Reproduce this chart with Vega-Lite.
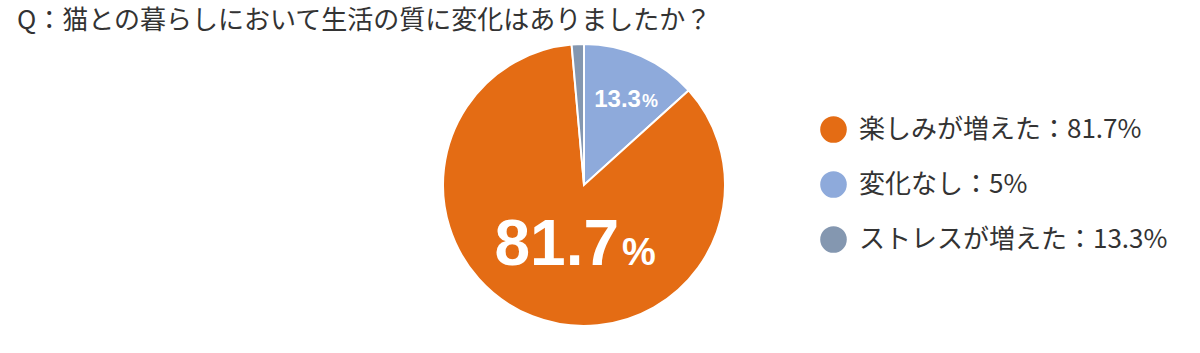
{
  "$schema": "https://vega.github.io/schema/vega-lite/v6.json",
  "width": 290,
  "height": 290,
  "autosize": {"type": "none"},
  "padding": {"left": 439, "top": 40, "right": 471, "bottom": 23},
  "background": "white",
  "title": {
    "text": "Q：猫との暮らしにおいて生活の質に変化はありましたか？",
    "anchor": "start",
    "frame": "group",
    "dx": -422,
    "offset": 6,
    "font": "Noto Sans CJK JP",
    "fontSize": 26,
    "fontWeight": "normal",
    "color": "#333333"
  },
  "data": {
    "values": [
      {"category": "変化なし：5%", "value": 13.3, "order": 1, "num": "13.3", "pct": "%"},
      {"category": "楽しみが増えた：81.7%", "value": 85.3, "order": 2, "num": "81.7", "pct": "%"},
      {"category": "ストレスが増えた：13.3%", "value": 1.4, "order": 3, "num": "", "pct": ""}
    ]
  },
  "encoding": {
    "theta": {"field": "value", "type": "quantitative", "stack": true},
    "order": {"field": "order", "type": "quantitative"}
  },
  "layer": [
    {
      "mark": {"type": "arc", "outerRadius": 141, "stroke": "white", "strokeWidth": 2},
      "encoding": {
        "color": {
          "field": "category",
          "type": "nominal",
          "scale": {
            "domain": ["楽しみが増えた：81.7%", "変化なし：5%", "ストレスが増えた：13.3%"],
            "range": ["#E46C14", "#8EAADB", "#8497B0"]
          },
          "legend": {
            "orient": "none",
            "legendX": 381,
            "legendY": 76,
            "title": null,
            "symbolType": "circle",
            "symbolSize": 707,
            "symbolStrokeWidth": 0,
            "symbolOpacity": 1,
            "labelFont": "Noto Sans CJK JP",
            "labelFontSize": 26,
            "labelColor": "#333333",
            "labelOffset": 12,
            "labelLimit": 500,
            "rowPadding": 28,
            "padding": 0
          }
        }
      }
    },
    {
      "mark": {"type": "text", "radius": 60, "align": "right", "baseline": "alphabetic", "dx": 57, "dy": 24, "font": "Liberation Sans", "fontWeight": "bold", "fontSize": 64, "color": "white"},
      "encoding": {"text": {"condition": {"test": "datum.order === 2", "field": "num"}, "value": ""}}
    },
    {
      "mark": {"type": "text", "radius": 60, "align": "left", "baseline": "alphabetic", "dx": 60, "dy": 24, "font": "Liberation Sans", "fontWeight": "bold", "fontSize": 38, "color": "white"},
      "encoding": {"text": {"condition": {"test": "datum.order === 2", "field": "pct"}, "value": ""}}
    },
    {
      "mark": {"type": "text", "radius": 96, "align": "right", "baseline": "alphabetic", "dx": 18, "dy": 10, "font": "Liberation Sans", "fontWeight": "bold", "fontSize": 24, "color": "white"},
      "encoding": {"text": {"condition": {"test": "datum.order === 1", "field": "num"}, "value": ""}}
    },
    {
      "mark": {"type": "text", "radius": 96, "align": "left", "baseline": "alphabetic", "dx": 19, "dy": 10, "font": "Liberation Sans", "fontWeight": "bold", "fontSize": 18, "color": "white"},
      "encoding": {"text": {"condition": {"test": "datum.order === 1", "field": "pct"}, "value": ""}}
    }
  ]
}
